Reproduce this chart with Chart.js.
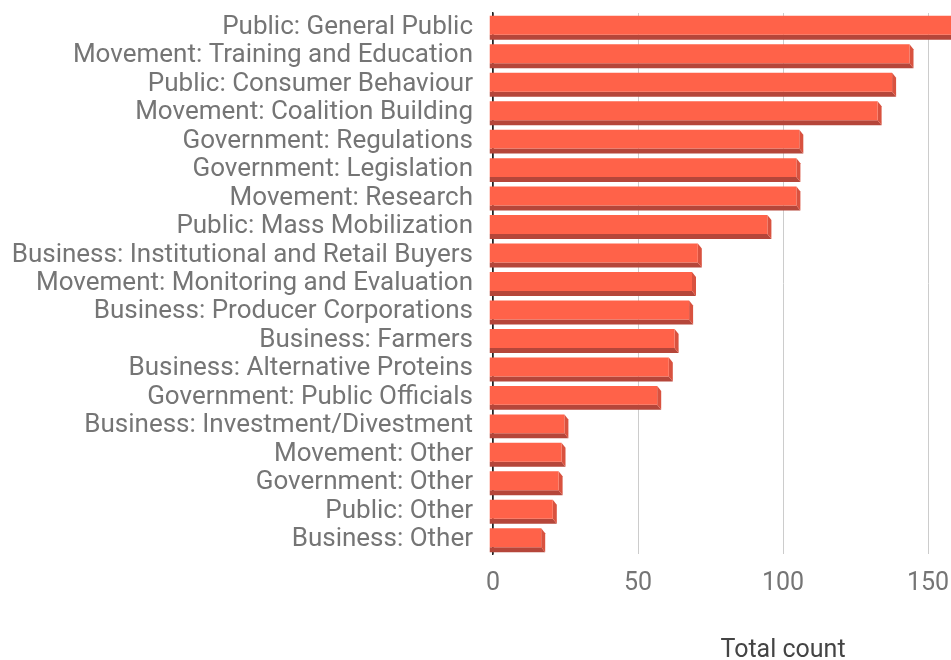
<!DOCTYPE html>
<html>
<head>
<meta charset="utf-8">
<script src="https://cdn.jsdelivr.net/npm/chart.js@4/dist/chart.umd.min.js"></script>
<style>
  html, body { margin: 0; padding: 0; background: #fff; overflow: hidden; }
  #wrap { position: absolute; left: 0; top: 0; }
</style>
</head>
<body>
<div id="wrap"><canvas id="countChart" width="1073" height="666"></canvas></div>
<script>
const categories = [
  'Public: General Public',
  'Movement: Training and Education',
  'Public: Consumer Behaviour',
  'Movement: Coalition Building',
  'Government: Regulations',
  'Government: Legislation',
  'Movement: Research',
  'Public: Mass Mobilization',
  'Business: Institutional and Retail Buyers',
  'Movement: Monitoring and Evaluation',
  'Business: Producer Corporations',
  'Business: Farmers',
  'Business: Alternative Proteins',
  'Government: Public Officials',
  'Business: Investment/Divestment',
  'Movement: Other',
  'Government: Other',
  'Public: Other',
  'Business: Other',
];
const totalCount = [162, 145, 139, 134, 107, 106, 106, 96, 72, 70, 69, 64, 62, 58, 26, 25, 24, 22, 18];
const xTicks = [0, 50, 100, 150, 200];

const FRONT = '#ff6249';
const BOTTOM = '#b5463a';
const SIDE = '#d9523f';
const DX = 4;   // depth of the bevel, horizontal
const DY = 5;   // depth of the bevel, vertical

// Fake 3D: draw the side/bottom faces behind each bar, then shift the front face up-left
const bevelBars = {
  id: 'bevelBars',
  beforeDatasetsDraw(chart) {
    const ctx = chart.ctx;
    const meta = chart.getDatasetMeta(0);
    ctx.save();
    meta.data.forEach((bar) => {
      const { x, y, base, height } = bar.getProps(['x', 'y', 'base', 'height'], true);
      const L = base - DX, R = x - DX;
      const T = y - height / 2 - 2, B = y + height / 2 - 2;
      // bottom face
      ctx.fillStyle = BOTTOM;
      ctx.beginPath();
      ctx.moveTo(L, B);
      ctx.lineTo(R, B);
      ctx.lineTo(R + DX, B + DY);
      ctx.lineTo(L, B + DY);
      ctx.closePath();
      ctx.fill();
      // right face
      ctx.fillStyle = SIDE;
      ctx.beginPath();
      ctx.moveTo(R, T);
      ctx.lineTo(R + DX, T + DY);
      ctx.lineTo(R + DX, B + DY);
      ctx.lineTo(R, B);
      ctx.closePath();
      ctx.fill();
    });
    ctx.translate(-DX, -2);
  },
  afterDatasetsDraw(chart) {
    chart.ctx.restore();
  },
};

new Chart(document.getElementById('countChart'), {
  type: 'bar',
  data: {
    labels: categories,
    datasets: [{
      data: totalCount,
      backgroundColor: FRONT,
      borderWidth: 0,
      categoryPercentage: 1,
      barPercentage: 0.665,
      clip: false,
    }],
  },
  options: {
    indexAxis: 'y',
    responsive: false,
    animation: false,
    layout: { padding: { top: 13, left: 0, right: 0, bottom: 0 } },
    scales: {
      x: {
        min: 0,
        max: 200,
        afterBuildTicks: (scale) => {
          scale.ticks = xTicks.map((v) => ({ value: v }));
        },
        afterFit: (scale) => {
          scale.paddingLeft = 0;
          scale.paddingRight = 0;
        },
        grid: {
          color: (c) => (c.tick && c.tick.value === 0 ? '#222' : '#cccccc'),
          lineWidth: (c) => (c.tick && c.tick.value === 0 ? 1.5 : 1),
          drawTicks: false,
        },
        border: { display: false },
        ticks: {
          color: '#757575',
          padding: 15,
          font: { family: 'Roboto', size: 25 },
        },
        title: {
          display: true,
          text: 'Total count',
          color: '#444444',
          padding: { top: 22, bottom: 0 },
          font: { family: 'Roboto', size: 25 },
        },
      },
      y: {
        afterFit: (scale) => {
          scale.width = 493;
          scale.paddingTop = 0;
          scale.paddingBottom = 0;
        },
        grid: { display: false, drawTicks: false },
        border: { display: true, color: '#222', width: 1.5 },
        ticks: {
          color: '#757575',
          padding: 20,
          autoSkip: false,
          font: { family: 'Roboto', size: 26 },
        },
      },
    },
    plugins: {
      legend: { display: false },
      tooltip: { enabled: false },
    },
  },
  plugins: [bevelBars],
});
</script>
</body>
</html>
